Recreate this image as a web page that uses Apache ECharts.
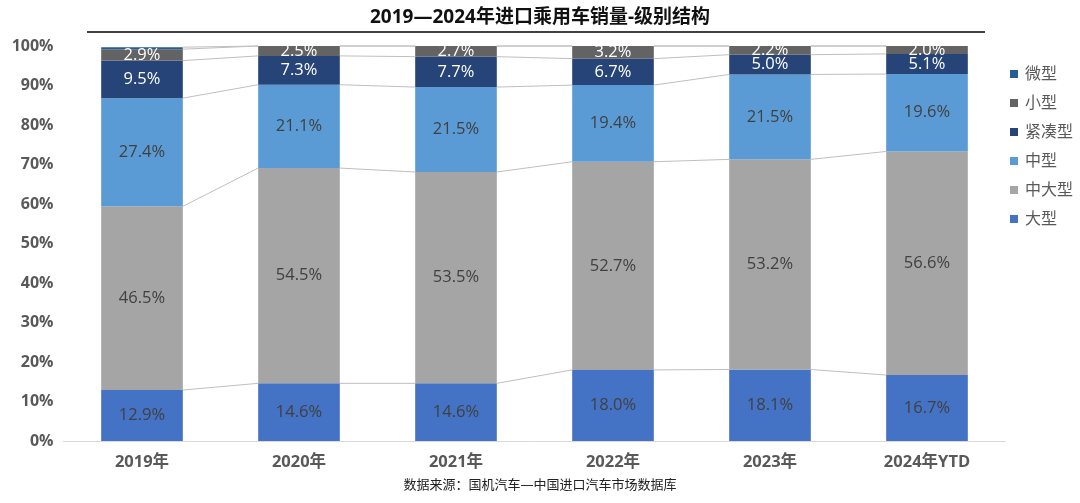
<!DOCTYPE html>
<html>
<head>
<meta charset="utf-8">
<script src="https://cdn.jsdelivr.net/npm/echarts@6/dist/echarts.min.js"></script>
<style>
html,body{margin:0;padding:0;background:#fff;}
#chart{width:1080px;height:503px;}
</style>
</head>
<body>
<div id="chart"></div>
<script>
var categories = ['2019年','2020年','2021年','2022年','2023年','2024年YTD'];
var daXing = [12.9, 14.6, 14.6, 18.0, 18.1, 16.7];
var zhongDaXing = [46.5, 54.5, 53.5, 52.7, 53.2, 56.6];
var zhongXing = [27.4, 21.1, 21.5, 19.4, 21.5, 19.6];
var jinCouXing = [9.5, 7.3, 7.7, 6.7, 5.0, 5.1];
var xiaoXing = [2.9, 2.5, 2.7, 3.2, 2.2, 2.0];
var weiXing = [0.5, 0, 0, 0, 0, 0];
var yTicks = [0, 10, 20, 30, 40, 50, 60, 70, 80, 90, 100];

var seriesDefs = [
  {name:'大型', data:daXing, color:'#4472C4', label:'#404040'},
  {name:'中大型', data:zhongDaXing, color:'#A5A5A5', label:'#404040'},
  {name:'中型', data:zhongXing, color:'#5B9BD5', label:'#404040'},
  {name:'紧凑型', data:jinCouXing, color:'#264478', label:'#ffffff'},
  {name:'小型', data:xiaoXing, color:'#636363', label:'#ffffff'},
  {name:'微型', data:weiXing, color:'#255E91', label:'#ffffff', hide:true}
];
var BAR_RATIO = 0.52;
var font = '"Open Sans","Noto Sans CJK SC",sans-serif';

var series = seriesDefs.map(function(s){
  return {
    name: s.name, type: 'bar', stack: 'total', barWidth: (BAR_RATIO*100)+'%',
    data: s.data,
    itemStyle: {color: s.color},
    label: {
      show: !s.hide, position: 'inside', color: s.label, fontSize: 16.5, fontFamily: font,
      formatter: function(p){ return p.value.toFixed(1) + '%'; }
    },
    z: 2
  };
});

series.push({
  type: 'custom', name: 'lines', silent: true, z: 3,
  data: categories.map(function(c,i){ return i; }),
  renderItem: function(params, api){
    var i = params.dataIndex;
    if (i >= categories.length - 1) return null;
    var half = api.size([1, 0])[0] * BAR_RATIO / 2;
    var children = [];
    var c1 = 0, c2 = 0;
    seriesDefs.forEach(function(s){
      c1 += s.data[i]; c2 += s.data[i+1];
      var p1 = api.coord([i, c1]);
      var p2 = api.coord([i+1, c2]);
      children.push({
        type: 'line',
        shape: {x1: p1[0] + half, y1: p1[1], x2: p2[0] - half, y2: p2[1]},
        style: {stroke: '#BFBFBF', lineWidth: 1}
      });
    });
    return {type: 'group', children: children};
  }
});

var chart = echarts.init(document.getElementById('chart'));
chart.setOption({
  animation: false,
  title: {
    text: '2019—2024年进口乘用车销量-级别结构',
    left: 'center', top: 3,
    textStyle: {fontSize: 19, fontWeight: 'bold', color: '#111', fontFamily: font}
  },
  graphic: [
    {type: 'line', shape: {x1: 87, y1: 32, x2: 985, y2: 32}, style: {stroke: '#404040', lineWidth: 2}},
    {type: 'text', left: 'center', top: 479, style: {text: '数据来源：国机汽车—中国进口汽车市场数据库', fontSize: 13, fill: '#222', fontFamily: font}}
  ],
  legend: {
    orient: 'vertical', left: 1005, top: 61,
    icon: 'rect', itemWidth: 8, itemHeight: 8, itemGap: 13,
    data: ['微型','小型','紧凑型','中型','中大型','大型'],
    textStyle: {fontSize: 16, color: '#595959', fontFamily: font, padding: [0,0,0,2]}
  },
  grid: {left: 63.5, right: 74.5, top: 46, bottom: 62},
  xAxis: {
    type: 'category', data: categories,
    axisLine: {lineStyle: {color: '#D9D9D9'}},
    axisTick: {show: false},
    axisLabel: {fontSize: 16.5, fontWeight: 'bold', color: '#595959', margin: 13, fontFamily: font}
  },
  yAxis: {
    type: 'value', min: yTicks[0], max: yTicks[yTicks.length-1], interval: 10,
    axisLine: {show: false}, axisTick: {show: false}, splitLine: {show: false},
    axisLabel: {fontSize: 16, fontWeight: 'bold', color: '#595959', margin: 10, fontFamily: font,
      formatter: function(v){ return v + '%'; }}
  },
  series: series
});
</script>
</body>
</html>
